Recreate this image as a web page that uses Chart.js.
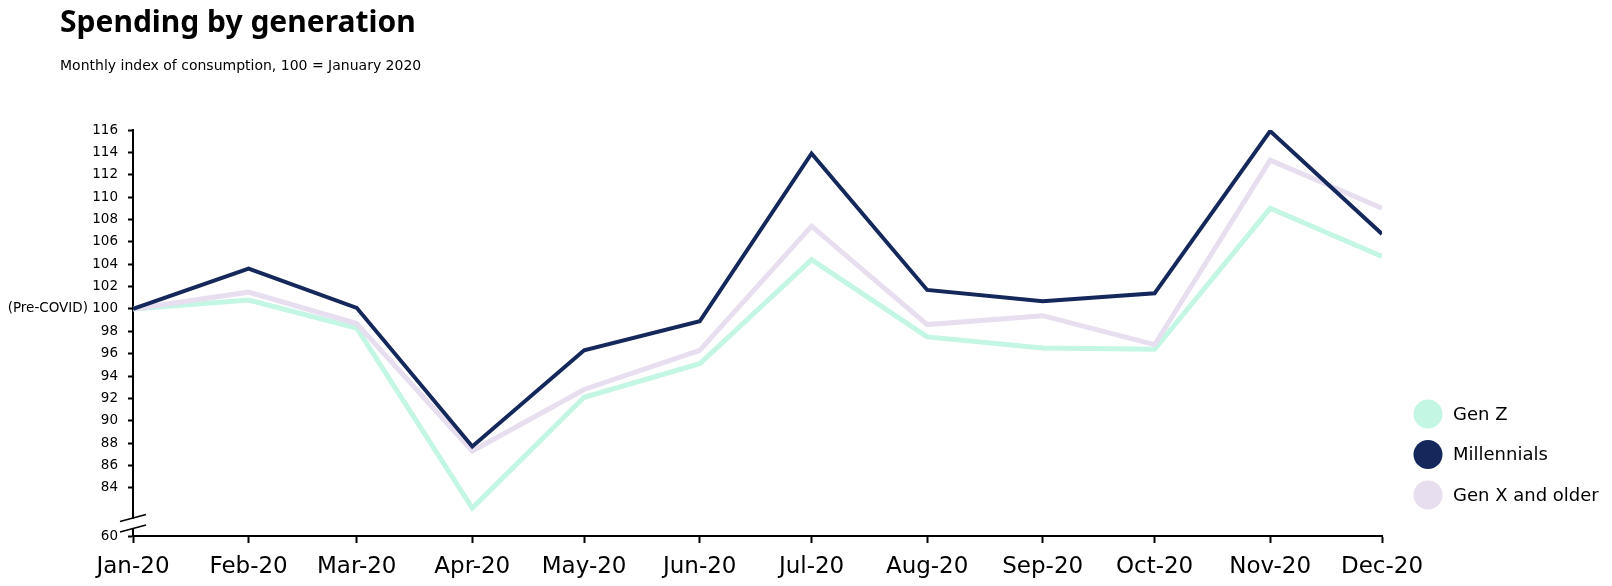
<!DOCTYPE html>
<html>
<head>
<meta charset="utf-8">
<script src="https://cdn.jsdelivr.net/npm/chart.js@4/dist/chart.umd.min.js"></script>
<style>
  html, body { margin: 0; padding: 0; background: #fff; }
  #wrap { position: relative; width: 1612px; height: 586px; }
  #chart { position: absolute; left: 0; top: 0; }
  h1 {
    position: absolute; left: 60px; top: 0px; margin: 0;
    font: bold 30px "Noto Sans", sans-serif; color: #000;
  }
  p.sub {
    position: absolute; left: 60px; top: 57px; margin: 0;
    font: 14px "DejaVu Sans", sans-serif; color: #000;
  }
</style>
</head>
<body>
<div id="wrap">
  <canvas id="chart" width="1612" height="586"></canvas>
  <h1>Spending by generation</h1>
  <p class="sub">Monthly index of consumption, 100 = January 2020</p>
</div>
<script>
// data
const months = ["Jan-20", "Feb-20", "Mar-20", "Apr-20", "May-20", "Jun-20",
                "Jul-20", "Aug-20", "Sep-20", "Oct-20", "Nov-20", "Dec-20"];
const dates = ["2020-01-01", "2020-02-01", "2020-03-01", "2020-04-01", "2020-05-01", "2020-06-01",
               "2020-07-01", "2020-08-01", "2020-09-01", "2020-10-01", "2020-11-01", "2020-12-01"];
const genZ = [100, 100.8, 98.3, 82.2, 92.1, 95.1, 104.4, 97.5, 96.5, 96.4, 109.0, 104.7];
const millennials = [100, 103.6, 100.1, 87.7, 96.3, 98.9, 113.9, 101.7, 100.7, 101.4, 115.9, 106.7];
const genX = [100, 101.5, 98.7, 87.3, 92.8, 96.3, 107.4, 98.6, 99.4, 96.8, 113.3, 109.0];
const yTicks = [60, 84, 86, 88, 90, 92, 94, 96, 98, 100, 102, 104, 106, 108, 110, 112, 114, 116];

// the axis is broken below 84: the "60" tick sits at the bottom of the visible range
const yBottom = 79.7;

const dayOf = d => (new Date(d) - new Date(dates[0])) / 86400000;
const days = dates.map(dayOf);
const pts = vals => vals.map((v, i) => ({ x: days[i], y: v }));

const legendPlugin = {
  id: "sideLegend",
  afterDraw(chart) {
    const ctx = chart.ctx;
    ctx.save();
    chart.data.datasets.forEach((ds, i) => {
      const y = 414 + i * 40.5;
      ctx.fillStyle = ds.borderColor;
      ctx.beginPath();
      ctx.arc(1428, y, 14.5, 0, Math.PI * 2);
      ctx.fill();
      ctx.fillStyle = "#000";
      ctx.font = '18px "DejaVu Sans"';
      ctx.textBaseline = "middle";
      ctx.fillText(ds.label, 1453, y + 1);
    });
    ctx.restore();
  }
};

const breakPlugin = {
  id: "axisBreak",
  afterDraw(chart) {
    const ctx = chart.ctx;
    const x = chart.chartArea.left;
    const b = chart.chartArea.bottom;
    ctx.save();
    ctx.fillStyle = "#fff";
    ctx.fillRect(x - 3, b - 17, 6, 10);
    ctx.strokeStyle = "#000";
    ctx.lineWidth = 1.6;
    [b - 18, b - 7.5].forEach(c => {
      ctx.beginPath();
      ctx.moveTo(x - 13, c + 3.5);
      ctx.lineTo(x + 13, c - 3.5);
      ctx.stroke();
    });
    ctx.restore();
  }
};

const chart = new Chart("chart", {
  type: "line",
  data: {
    datasets: [
      { label: "Gen Z", data: pts(genZ), borderColor: "#c4f6e4", borderWidth: 5, order: 2 },
      { label: "Millennials", data: pts(millennials), borderColor: "#14285b", borderWidth: 4, order: 0 },
      { label: "Gen X and older", data: pts(genX), borderColor: "#e7def0", borderWidth: 5, order: 1 },
    ],
  },
  options: {
    responsive: false,
    animation: false,
    layout: { padding: { top: 130, right: 230, left: 0, bottom: 0 } },
    elements: {
      point: { radius: 0 },
      line: { tension: 0, borderJoinStyle: "miter", fill: false },
    },
    plugins: {
      legend: { display: false },
      tooltip: { enabled: false },
    },
    scales: {
      x: {
        type: "linear",
        min: days[0],
        max: days[days.length - 1],
        afterBuildTicks: s => { s.ticks = days.map(v => ({ value: v })); },
        afterFit: s => { s.height = 50; },
        ticks: {
          callback: v => months[days.indexOf(v)],
          color: "#000",
          font: { family: "DejaVu Sans", size: 23 },
          padding: 10,
          maxRotation: 0,
          autoSkip: false,
        },
        grid: { drawOnChartArea: false, tickLength: 7, tickColor: "#000", tickWidth: 2 },
        border: { color: "#000", width: 2 },
      },
      y: {
        min: yBottom,
        max: 116,
        afterBuildTicks: s => { s.ticks = yTicks.map(v => ({ value: v < yBottom ? yBottom : v })); },
        afterFit: s => { s.width = 133; },
        ticks: {
          callback: v => {
            if (v === yBottom) return String(yTicks[0]);
            if (v === 100) return "(Pre-COVID) 100";
            return String(v);
          },
          color: "#000",
          font: { family: "DejaVu Sans", size: 13.5 },
          padding: 10,
          autoSkip: false,
        },
        grid: { drawOnChartArea: false, tickLength: 5, tickColor: "#000", tickWidth: 2 },
        border: { color: "#000", width: 2 },
      },
    },
  },
  plugins: [legendPlugin, breakPlugin],
});
</script>
</body>
</html>
